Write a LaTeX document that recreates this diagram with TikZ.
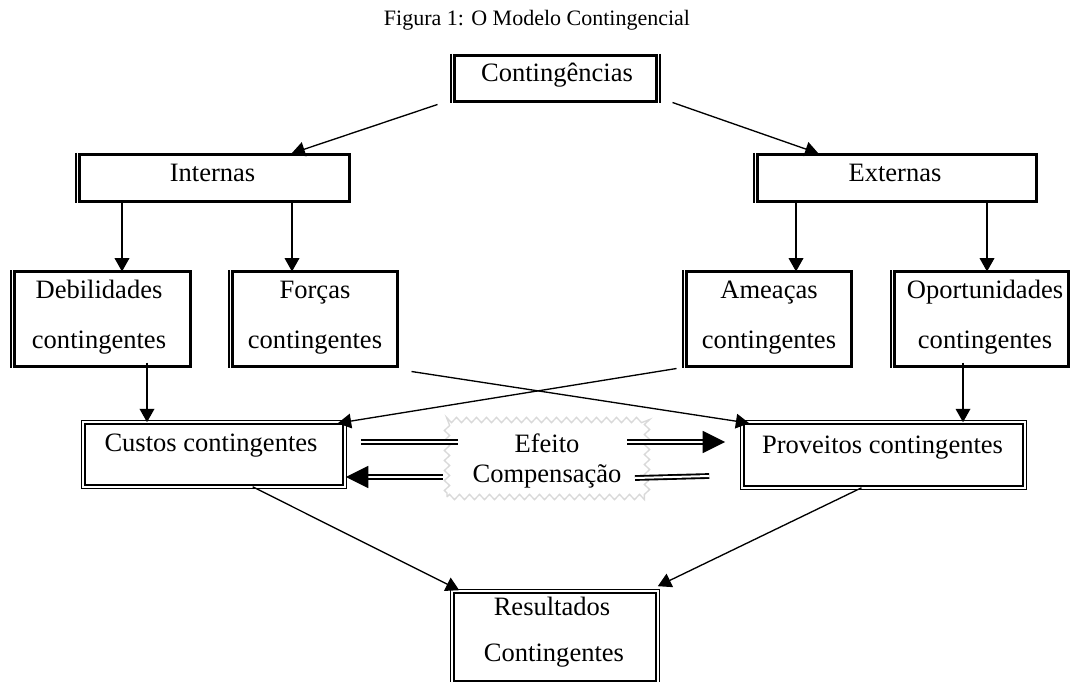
\documentclass[tikz,border=0pt]{standalone}
\usepackage{fontspec}
\setmainfont{Liberation Serif}
\usetikzlibrary{arrows.meta,decorations.pathmorphing}
\begin{document}
\begin{tikzpicture}[x=0.75pt,y=-0.75pt,
  tbox/.style 2 args={draw, line width=2.25pt, minimum width={(#1-3)*0.75pt}, minimum height={(#2-3)*0.75pt}, inner sep=0pt, outer sep=0pt},
  dbox/.style 2 args={draw, double, line width=1pt, double distance=1.5pt, minimum width={(#1-4.4)*0.75pt}, minimum height={(#2-4.4)*0.75pt}, inner sep=0pt, outer sep=0pt},
  zbox/.style 2 args={draw=black!15, line width=1pt, decorate, decoration={zigzag, segment length=7.5pt, amplitude=2pt}, minimum width={#1*0.75pt}, minimum height={#2*0.75pt}, inner sep=0pt, outer sep=0pt},
  thinl/.style={line width=0.8pt},
  txt/.style={inner sep=0pt, anchor=base, font=\fontsize{19.9pt}{24pt}\selectfont},
  ttl/.style={inner sep=0pt, anchor=base, font=\fontsize{16.5pt}{20pt}\selectfont},
  arr/.style={line width=1pt, -{Triangle[length=10pt, width=11pt]}},
  darr/.style={double, line width=1.4pt, double distance=1.5pt},
  dtip/.style={darr, -{Triangle[length=17pt, width=16.5pt]}}
]
\useasboundingbox (0,0) rectangle (1073,681);
\fill[white] (0,0) rectangle (1073,681);
\clip (0,0) rectangle (1073,681);

\node[ttl] (title) at (537,26) {Figura 1: O Modelo Contingencial};

% boxes
\node[tbox={205}{49}] (cont) at (555.5,78.5) {};
\node[tbox={273}{50}] (int) at (214.5,178) {};
\node[tbox={282}{50}] (ext) at (897,178) {};
\node[tbox={179}{98}] (deb) at (102.5,319) {};
\node[tbox={168}{98}] (for) at (315,319) {};
\node[tbox={168}{98}] (ame) at (769,319) {};
\node[tbox={177}{98}] (opo) at (981.5,319) {};
\node[dbox={266}{69}] (cus) at (214,454.5) {};
\node[dbox={287}{70}] (pro) at (883.5,455) {};
\node[dbox={210}{96}] (res) at (555,637) {};
\node[zbox={200}{77}] (efe) at (547,458.5) {};

% thin outer lines
\foreach \n in {cont,int,ext,deb,for,ame,opo}{
  \draw[thinl] ([shift={(-3.5,-1.5)}]\n.north west) -- ([shift={(-3.5,1.5)}]\n.south west);
}
\draw[thinl] ([shift={(3.5,-1.5)}]cont.north east) -- ([shift={(3.5,1.5)}]cont.south east);

% texts
\node[txt] (contT) at (557,81.7) {Contingências};
\node[txt] (intT) at (212.5,181.7) {Internas};
\node[txt] (extT) at (895,181.7) {Externas};
\node[txt] (debT1) at (99,298.3) {Debilidades};
\node[txt] (debT2) at (99,348.3) {contingentes};
\node[txt] (forT1) at (315,298.3) {Forças};
\node[txt] (forT2) at (315,348.3) {contingentes};
\node[txt] (ameT1) at (769,298.3) {Ameaças};
\node[txt] (ameT2) at (769,348.3) {contingentes};
\node[txt] (opoT1) at (985,298.3) {Oportunidades};
\node[txt] (opoT2) at (985,348.3) {contingentes};
\node[txt] (cusT) at (211,451.7) {Custos contingentes};
\node[txt] (proT) at (882.5,453) {Proveitos contingentes};
\node[txt] (efeT1) at (547,452) {Efeito};
\node[txt] (efeT2) at (547,482) {Compensação};
\node[txt] (resT1) at (552,615) {Resultados};
\node[txt] (resT2) at (554,661.7) {Contingentes};

% x positions for vertical connectors
\coordinate (v1) at (122,0);
\coordinate (v2) at (292,0);
\coordinate (v3) at (796,0);
\coordinate (v4) at (987,0);
\coordinate (v5) at (147,0);
\coordinate (v6) at (963,0);

\draw[arr] ([shift={(-17,3)}]cont.south west) -- ([shift={(-58,-1)}]int.north east);
\draw[arr] ([shift={(16,1)}]cont.south east) -- ([shift={(61,-1)}]ext.north west);
\draw[arr] (int.south -| v1) -- (deb.north -| v1);
\draw[arr] (int.south -| v2) -- (for.north -| v2);
\draw[arr] (ext.south -| v3) -- (ame.north -| v3);
\draw[arr] (ext.south -| v4) -- (opo.north -| v4);
\draw[arr] ([yshift=3]deb.south -| v5) -- (cus.north -| v5);
\draw[arr] ([yshift=3]opo.south -| v6) -- (pro.north -| v6);
\draw[arr] ([shift={(14,5)}]for.south east) -- ([shift={(7,1)}]pro.north west);
\draw[arr] ([shift={(-10,2)}]ame.south west) -- ([shift={(-7,1)}]cus.north east);
\draw[arr] ([xshift=29]cus.south) -- ([shift={(7,-1)}]res.north west);
\draw[arr] ([xshift=-16.5]pro.south) -- ([shift={(0,-5)}]res.north east);

% compensation arrows
\draw[darr] ([shift={(16,-12.5)}]cus.east) -- ([shift={(11,-16.5)}]efe.west);
\draw[dtip] ([shift={(-20,-16.5)}]efe.east) -- ([shift={(-17,-13)}]pro.west);
\draw[dtip] ([shift={(-4,18.5)}]efe.west) -- ([shift={(1,22.5)}]cus.east);
\draw[darr] ([shift={(-12,19.5)}]efe.east) -- ([shift={(-33,21)}]pro.west);
\end{tikzpicture}
\end{document}
